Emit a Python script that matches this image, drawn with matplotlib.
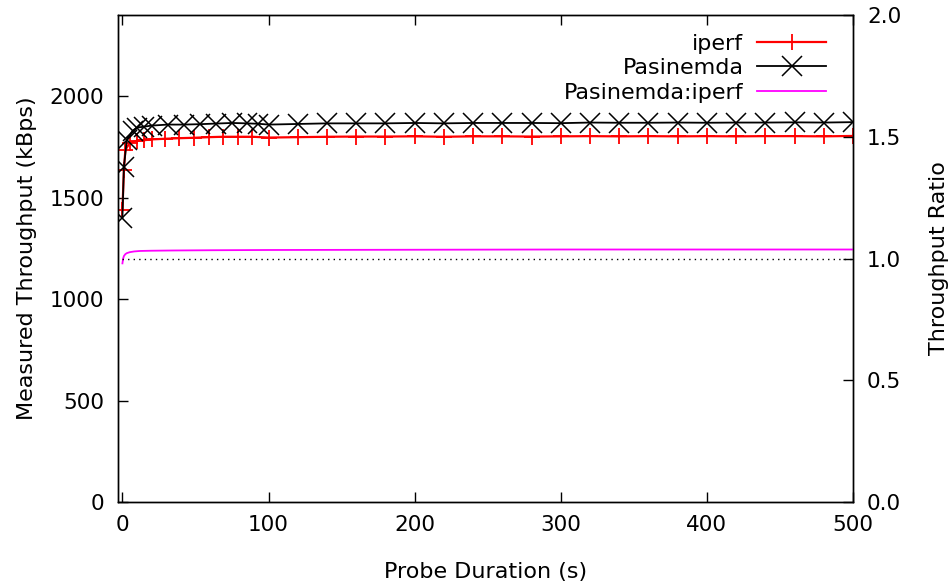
import matplotlib
matplotlib.use("Agg")
import matplotlib.pyplot as plt

# --- data ---
iperf_t = [0, 1, 2, 5, 10, 15, 20, 29, 39, 49, 59, 69, 79, 89, 100,
           120, 140, 160, 180, 200, 220, 240, 260, 280, 300, 320, 340,
           360, 380, 400, 420, 440, 460, 480, 500]
iperf_kbps = [1440, 1636, 1735, 1770, 1780, 1783, 1787, 1790, 1793, 1795,
              1798, 1800, 1800, 1800, 1796, 1798, 1800, 1801, 1801, 1802,
              1800, 1802, 1802, 1801, 1802, 1803, 1802, 1803, 1802, 1803,
              1802, 1803, 1803, 1802, 1804]

pas_t = [0, 1, 3, 7, 10, 15, 20, 31, 42, 53, 64, 75, 85, 93, 100,
         120, 140, 160, 180, 200, 220, 240, 260, 280, 300, 320, 340,
         360, 380, 400, 420, 440, 460, 480, 500]
pas_kbps = [1400, 1652, 1784, 1830, 1845, 1850, 1855, 1860, 1860, 1862,
            1865, 1868, 1866, 1864, 1860, 1863, 1866, 1866, 1866, 1868,
            1866, 1868, 1868, 1868, 1867, 1870, 1869, 1869, 1870, 1869,
            1870, 1870, 1871, 1870, 1872]

ratio_t = [0, 0.5, 1, 2, 3, 5, 8, 12, 20, 35, 60, 100, 200, 300, 400, 500]
ratio = [0.98, 1.00, 1.01, 1.018, 1.022, 1.026, 1.029, 1.031, 1.032,
         1.033, 1.034, 1.035, 1.036, 1.037, 1.037, 1.037]

xticks = [0, 100, 200, 300, 400, 500]
yticks = [0, 500, 1000, 1500, 2000]
y2ticks = [0.0, 0.5, 1.0, 1.5, 2.0]

plt.rcParams['font.family'] = ['DejaVu Sans']
plt.rcParams['font.size'] = 15.5

fig = plt.figure(figsize=(9.52, 5.86), dpi=100)
ax = fig.add_axes([0.124, 0.1433, 0.772, 0.8311])
ax2 = ax.twinx()

l1, = ax.plot(iperf_t, iperf_kbps, color='red', lw=1.6, marker='+',
              markersize=12, markeredgewidth=1.3, label='iperf')
l2, = ax.plot(pas_t, pas_kbps, color='black', lw=1.3, marker='x',
              markersize=14, markeredgewidth=1.1, label='Pasinemda')
l3, = ax2.plot(ratio_t, ratio, color='#ff00ff', lw=1.3, label='Pasinemda:iperf')
ax2.plot([0, 500], [1.0, 1.0], color='black', lw=1, linestyle=(0, (1, 3)))

ax.set_xlim(-3, 500)
ax.set_ylim(0, 2400)
ax2.set_ylim(0, 2.0)
ax.set_xticks(xticks)
ax.set_yticks(yticks)
ax2.set_yticks(y2ticks)
ax2.set_yticklabels([f"{v:.1f}" for v in y2ticks])

ax.tick_params(axis='both', direction='in', length=7, width=1, pad=10)
ax.tick_params(axis='x', top=True, pad=9)
ax2.tick_params(axis='y', direction='in', length=7, width=1, pad=10)

ax.set_xlabel('Probe Duration (s)', fontsize=16, labelpad=20)
ax.set_ylabel('Measured Throughput (kBps)', fontsize=16, labelpad=9)
ax2.set_ylabel('Throughput Ratio', fontsize=16, labelpad=20)

for a in (ax, ax2):
    for s in a.spines.values():
        s.set_linewidth(1)

leg = ax.legend(handles=[l1, l2, l3], loc='upper right', frameon=False,
                markerfirst=False, handlelength=3.1, handletextpad=0.63,
                labelspacing=0.2, borderpad=0.4, borderaxespad=0,
                bbox_to_anchor=(0.9758, 0.980), fontsize=16)

fig.savefig('out.png', dpi=100)
